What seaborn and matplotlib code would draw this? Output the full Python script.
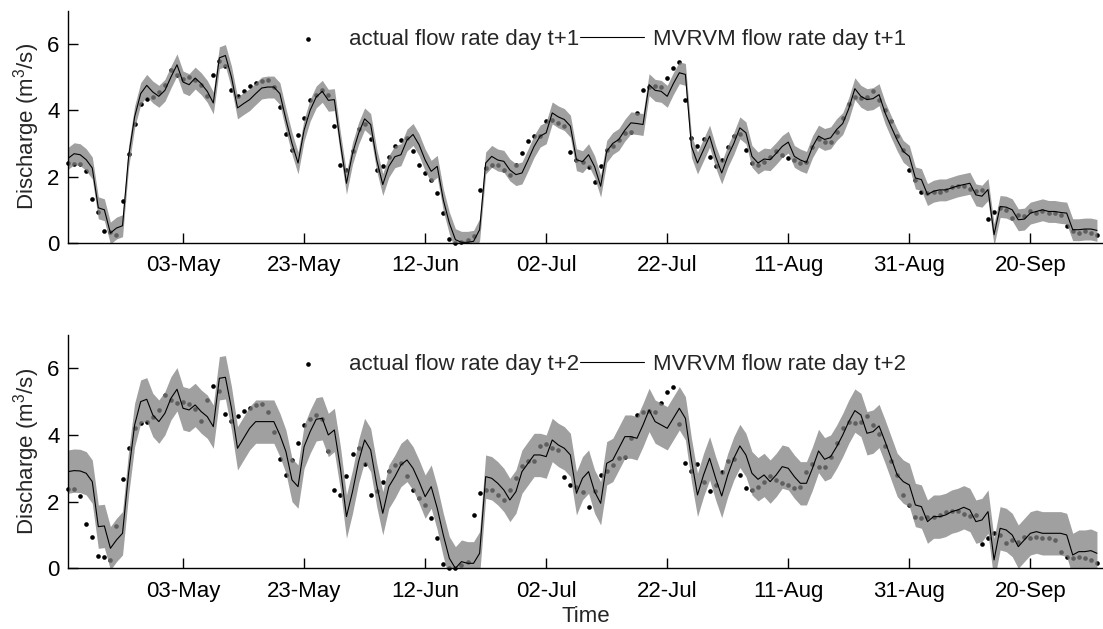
import matplotlib
matplotlib.use("Agg")
import matplotlib.pyplot as plt
import matplotlib.dates as mdates
import seaborn as sns
import numpy as np
import pandas as pd

# daily values, 14-Apr to 02-Oct
start_day = "2010-04-14"

actual_flow = [
    2.41, 2.38, 2.37, 2.16, 1.33, 0.93, 0.37, 0.33, 0.24, 1.28,
    2.68, 3.60, 4.20, 4.35, 4.40, 4.55, 4.75, 5.20, 5.05, 4.95,
    5.00, 4.92, 4.77, 4.42, 5.05, 5.48, 5.33, 4.62, 4.42, 4.57,
    4.72, 4.82, 4.89, 4.92, 4.70, 4.10, 3.27, 2.80, 3.24, 3.77,
    4.30, 4.47, 4.60, 4.47, 3.52, 2.36, 2.21, 2.76, 3.42, 3.60,
    3.12, 2.21, 2.31, 2.60, 2.91, 3.10, 3.17, 2.76, 2.36, 2.11,
    1.90, 1.50, 0.90, 0.12, 0.00, 0.02, 0.10, 0.20, 1.59, 2.26,
    2.36, 2.36, 2.20, 2.05, 2.36, 2.71, 3.07, 3.22, 3.22, 3.67,
    3.72, 3.62, 3.54, 2.73, 2.51, 2.45, 2.30, 1.83, 2.31, 2.80,
    2.91, 3.10, 3.32, 3.34, 3.92, 4.60, 4.70, 4.72, 4.70, 4.97,
    5.28, 5.45, 4.32, 3.17, 2.91, 3.12, 2.60, 2.31, 2.50, 2.90,
    3.22, 3.27, 2.81, 2.41, 2.35, 2.45, 2.60, 2.76, 2.65, 2.55,
    2.51, 2.40, 2.45, 2.90, 3.14, 3.05, 3.05, 3.35, 3.77, 4.20,
    4.40, 4.37, 4.40, 4.57, 4.30, 4.02, 3.67, 3.22, 2.81, 2.19,
    1.91, 1.54, 1.50, 1.55, 1.55, 1.60, 1.70, 1.72, 1.71, 1.62,
    1.56, 1.60, 0.72, 0.92, 1.05, 1.00, 0.75, 0.85, 0.80, 0.95,
    0.90, 0.95, 0.90, 0.90, 0.85, 0.50, 0.35, 0.30, 0.35, 0.30,
    0.25, 0.15,
]

pred_t1 = [
    2.55, 2.69, 2.66, 2.51, 2.26, 1.06, 1.00, 0.30, 0.45, 0.52,
    2.60, 3.80, 4.50, 4.75, 4.55, 4.42, 4.60, 5.00, 5.37, 4.85,
    4.77, 4.97, 4.80, 4.57, 4.22, 5.58, 5.65, 5.00, 4.07, 4.20,
    4.32, 4.50, 4.67, 4.70, 4.70, 4.50, 3.72, 3.00, 2.41, 3.40,
    4.00, 4.40, 4.57, 4.30, 4.32, 3.00, 1.80, 2.70, 3.30, 3.74,
    3.57, 2.50, 1.76, 2.31, 2.60, 2.66, 3.10, 3.27, 2.96, 2.50,
    2.16, 2.31, 1.30, 0.60, 0.10, 0.02, 0.02, 0.05, 0.40, 2.41,
    2.61, 2.50, 2.46, 2.20, 2.06, 2.11, 2.50, 2.91, 3.22, 3.32,
    3.92, 3.80, 3.72, 3.52, 2.51, 2.45, 2.66, 2.30, 1.71, 2.76,
    3.00, 3.12, 3.40, 3.62, 3.60, 3.57, 4.77, 4.60, 4.57, 4.42,
    4.80, 5.13, 5.08, 2.91, 2.41, 2.81, 3.22, 2.60, 2.11, 2.61,
    3.00, 3.47, 3.32, 2.61, 2.41, 2.53, 2.51, 2.70, 2.91, 3.04,
    2.61, 2.50, 2.43, 2.90, 3.22, 3.12, 3.17, 3.42, 3.60, 4.05,
    4.65, 4.42, 4.32, 4.35, 4.47, 3.92, 3.50, 3.10, 2.76, 2.61,
    1.96, 1.91, 1.46, 1.56, 1.60, 1.60, 1.66, 1.72, 1.76, 1.80,
    1.45, 1.41, 1.61, 0.25, 1.10, 1.08, 1.00, 0.70, 0.72, 0.90,
    0.95, 1.00, 0.95, 0.95, 0.92, 0.90, 0.40, 0.40, 0.42, 0.42,
    0.38,
]

pred_t2 = [
    2.90, 2.93, 2.92, 2.85, 2.60, 1.25, 1.27, 0.60, 0.85, 1.05,
    2.85, 4.30, 5.00, 5.07, 4.60, 4.40, 4.65, 5.10, 5.37, 4.80,
    4.75, 4.90, 4.70, 4.55, 4.25, 5.70, 5.73, 4.80, 3.60, 3.90,
    4.20, 4.40, 4.40, 4.40, 4.40, 4.00, 3.50, 2.65, 2.45, 3.65,
    4.10, 4.47, 4.50, 4.00, 4.15, 3.00, 1.55, 2.30, 3.20, 3.85,
    3.55, 2.50, 1.65, 2.45, 2.75, 3.10, 3.25, 3.00, 2.60, 2.15,
    2.45, 1.80, 1.00, 0.30, 0.00, 0.20, 0.15, 0.15, 0.45, 2.75,
    2.70, 2.55, 2.35, 2.05, 2.30, 2.90, 3.15, 3.40, 3.40, 3.35,
    3.85, 3.70, 3.60, 3.40, 2.25, 2.70, 2.90, 2.30, 1.95, 3.15,
    3.25, 3.60, 3.95, 3.95, 3.90, 4.30, 4.75, 4.40, 4.30, 4.20,
    4.50, 4.80, 4.50, 3.25, 2.20, 2.80, 3.30, 2.70, 2.17, 2.80,
    3.30, 3.67, 3.40, 2.85, 2.67, 2.80, 2.60, 2.80, 3.05, 3.00,
    2.75, 2.55, 2.55, 3.00, 3.52, 3.27, 3.35, 3.65, 4.00, 4.40,
    4.73, 4.60, 4.05, 4.10, 4.27, 3.80, 3.30, 2.80, 2.60, 2.50,
    1.90, 1.85, 1.40, 1.55, 1.55, 1.60, 1.70, 1.75, 1.83, 1.75,
    1.40, 1.45, 1.70, 0.25, 1.20, 1.15, 1.00, 0.65, 0.85, 1.05,
    1.10, 1.05, 1.05, 1.05, 1.05, 1.00, 0.40, 0.50, 0.50, 0.53,
    0.45,
]

# half width of the predictive interval
interval_t1 = 0.33
interval_t2 = 0.65

tick_days = ["2010-05-03", "2010-05-23", "2010-06-12", "2010-07-02",
             "2010-07-22", "2010-08-11", "2010-08-31", "2010-09-20"]

sns.set_theme(style="ticks")
plt.rcParams["font.family"] = ["Liberation Sans", "DejaVu Sans"]
plt.rcParams["mathtext.default"] = "regular"

n = len(pred_t1)
dates = pd.date_range(start_day, periods=n, freq="D")
actual = np.array(actual_flow)

# the t+2 panel shows the same flow record one day further on
panels = [
    (actual[0:n], np.array(pred_t1), interval_t1, "t+1"),
    (actual[1:n + 1], np.array(pred_t2), interval_t2, "t+2"),
]

fig = plt.figure(figsize=(11.03, 6.29), dpi=100)
ax1 = fig.add_axes([0.0617, 0.6137, 0.9383, 0.3693])
ax2 = fig.add_axes([0.0617, 0.0965, 0.9383, 0.3710])

for ax, (obs, pred, hw, lag) in zip([ax1, ax2], panels):
    sns.scatterplot(x=dates, y=obs, color="black", s=11, linewidth=0,
                    ax=ax, zorder=1, clip_on=False,
                    label="actual flow rate day " + lag)
    ax.fill_between(dates, pred - hw, pred + hw, color="0.5", alpha=0.75,
                    linewidth=0, zorder=2)
    sns.lineplot(x=dates, y=pred, color="black", linewidth=0.8, ax=ax,
                 zorder=3, label="MVRVM flow rate day " + lag)

    ax.set_ylim(0, 7)
    ax.set_yticks([0, 2, 4, 6])
    ax.set_xlim(pd.Timestamp(start_day), pd.Timestamp(start_day) + pd.Timedelta(days=171))
    ax.set_xticks(pd.to_datetime(tick_days))
    ax.xaxis.set_major_formatter(mdates.DateFormatter("%d-%b"))
    ax.tick_params(direction="in", length=7, width=1, labelsize=16,
                   colors="black", pad=6)
    ax.tick_params(axis="x", pad=9)
    for side in ["top", "right"]:
        ax.spines[side].set_visible(False)
    for side in ["left", "bottom"]:
        ax.spines[side].set_linewidth(1)
        ax.spines[side].set_color("black")
    ax.set_ylabel("Discharge (m$^3$/s)", fontsize=16, labelpad=4)
    ax.set_xlabel("")

    handles, labels = ax.get_legend_handles_labels()
    order = [labels.index("actual flow rate day " + lag),
             labels.index("MVRVM flow rate day " + lag)]
    ax.legend([handles[i] for i in order], [labels[i] for i in order],
              loc="center left", bbox_to_anchor=(0.201, 0.875), ncol=2,
              frameon=False, fontsize=16, handlelength=2.9,
              handletextpad=0.4, columnspacing=0.0, borderpad=0,
              borderaxespad=0, markerscale=1.0)

ax2.set_xlabel("Time", fontsize=16, labelpad=3)

fig.savefig("out.png", dpi=100, facecolor="white")
